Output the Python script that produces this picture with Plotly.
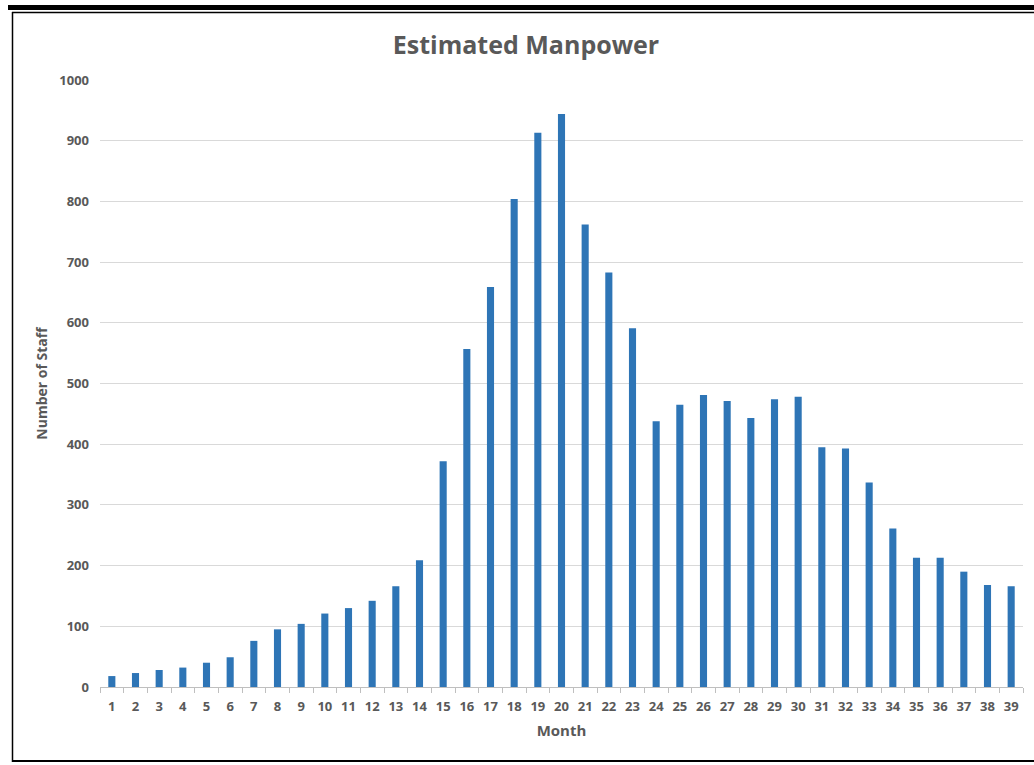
import plotly.graph_objects as go

months = [str(m) for m in range(1, 40)]
staff = [18, 23, 28, 32, 40, 49, 76, 95, 104, 121, 130, 142, 166, 209, 372,
         557, 659, 804, 913, 944, 762, 683, 591, 438, 465, 481, 471, 443, 474,
         478, 395, 393, 337, 261, 213, 213, 190, 168, 166]
y_ticks = [0, 100, 200, 300, 400, 500, 600, 700, 800, 900, 1000]

W, H = 1034, 765
L, R, T, B = 100, 11, 80, 78
pw, ph = W - L - R, H - T - B

def px(x):
    return (x - L) / pw

def py(y):
    return (H - B - y) / ph

TXT = "#595959"
FONT = "Open Sans"

fig = go.Figure(go.Bar(x=months, y=staff, marker=dict(color="#2e75b6", line=dict(width=0))))

shapes = [
    dict(type="rect", xref="paper", yref="paper", x0=px(8), x1=px(1040), y0=py(5), y1=py(10),
         fillcolor="black", line=dict(width=0), layer="above"),
    dict(type="line", xref="paper", yref="paper", x0=px(12), x1=px(1040), y0=py(12.5), y1=py(12.5),
         line=dict(color="black", width=1.5), layer="above"),
    dict(type="line", xref="paper", yref="paper", x0=px(12.5), x1=px(12.5), y0=py(12), y1=py(762),
         line=dict(color="black", width=1.5), layer="above"),
    dict(type="line", xref="paper", yref="paper", x0=px(12), x1=px(1040), y0=py(761), y1=py(761),
         line=dict(color="black", width=2), layer="above"),
]

fig.update_layout(
    width=W, height=H,
    margin=dict(l=L, r=R, t=T, b=B, pad=0, autoexpand=False),
    paper_bgcolor="white", plot_bgcolor="white",
    bargap=0.7,
    showlegend=False,
    title=dict(text="<b>Estimated Manpower</b>", x=526 / W, xanchor="center",
               y=1 - 45 / H, yanchor="middle",
               font=dict(family=FONT, size=25, color=TXT)),
    font=dict(family=FONT, color=TXT),
    shapes=shapes,
)

fig.update_xaxes(
    type="category",
    automargin=False,
    showgrid=False,
    showline=True, linecolor="#bfbfbf", linewidth=1,
    ticks="outside", tickson="boundaries", ticklen=5, tickcolor="#bfbfbf", tickwidth=1,
    tickangle=0,
    tickfont=dict(family=FONT, size=13, color=TXT, weight="bold"),
    ticklabelstandoff=7,
    title=dict(text="<b>Month</b>", font=dict(family=FONT, size=15, color=TXT), standoff=11),
    zeroline=False,
)
fig.update_yaxes(
    range=[0, 1000],
    automargin=False,
    tickvals=y_ticks,
    showgrid=True, gridcolor="#d9d9d9", gridwidth=1,
    showline=False, zeroline=False,
    ticks="",
    tickfont=dict(family=FONT, size=13, color=TXT, weight="bold"),
    ticklabelstandoff=10,
    title=dict(text="<b>Number of Staff</b>", font=dict(family=FONT, size=14, color=TXT), standoff=8),
)

fig.write_html("out.html", config={"displayModeBar": False},
               post_script="document.body.style.margin='0';document.body.style.overflow='hidden';")
